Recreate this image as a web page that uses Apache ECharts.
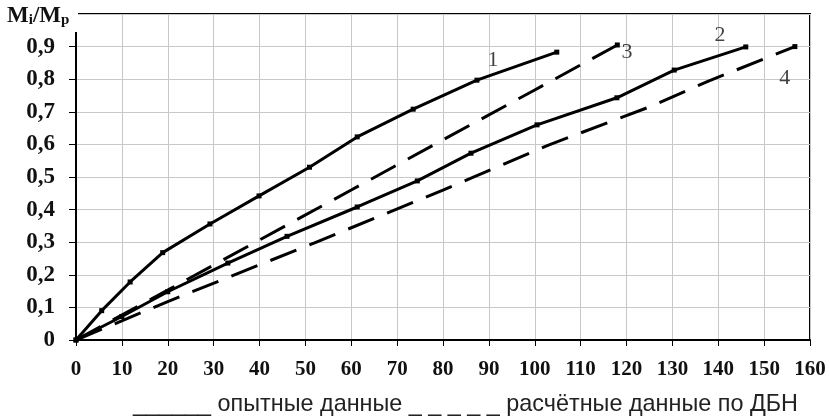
<!DOCTYPE html>
<html><head><meta charset="utf-8">
<script src="https://cdn.jsdelivr.net/npm/echarts@6/dist/echarts.min.js"></script>
<style>html,body{margin:0;padding:0;background:#fff}#c{width:830px;height:420px}</style>
</head><body><div id="c"></div>
<script>
// Curve 1 (experimental)
const x1 = [0, 5.6, 11.8, 18.9, 29.2, 39.9, 50.9, 61.3, 73.5, 87.4, 104.8];
const y1 = [0, 0.09, 0.178, 0.268, 0.356, 0.442, 0.53, 0.623, 0.708, 0.797, 0.883];
// Curve 2 (experimental)
const x2 = [0, 10, 20, 33.1, 46, 61.3, 74.4, 86.1, 100.5, 117.9, 130.4, 146];
const y2 = [0, 0.072, 0.148, 0.236, 0.318, 0.408, 0.488, 0.573, 0.66, 0.743, 0.828, 0.899];
// Curve 3 (calculated, DBN)
const x3 = [0, 20, 38.6, 60, 80, 100, 118];
const y3 = [0, 0.153, 0.296, 0.46, 0.614, 0.767, 0.905];
// Curve 4 (calculated, DBN)
const x4 = [0, 20, 52, 80, 103, 125, 138, 156.7];
const y4 = [0, 0.118, 0.298, 0.46, 0.598, 0.715, 0.795, 0.9];
// Curve number labels
const labelText = ['1', '2', '3', '4'];
const labelX = [90.9, 140.4, 120.1, 154.5];
const labelY = [0.859, 0.936, 0.883, 0.804];
// Axis ticks
const xMin = 0, xMax = 160, xStep = 10;
const yMin = 0, yMax = 1, yStep = 0.1;
const yTitle = ['M', 'i', '/M', 'p'];
const legendSolid = '______ опытные данные';
const legendDashed = '_ _ _ _ _ расчётные данные по ДБН';

const zip = (xs, ys) => xs.map((x, i) => [x, ys[i]]);
const solid = {type: 'solid', width: 3, color: '#000'};
const dashed = {type: [28, 14], width: 3, color: '#000'};
function line(name, xs, ys, style, endOnly) {
  const lastX = xs[xs.length - 1];
  return {name, type: 'line', data: zip(xs, ys),
    symbol: endOnly ? (v => (v[0] === lastX ? 'rect' : 'none')) : 'rect', symbolSize: 5,
    itemStyle: {color: '#000'}, lineStyle: style, silent: true, animation: false, z: 3};
}
const chart = echarts.init(document.getElementById('c'), null, {renderer: 'canvas'});
chart.setOption({
  backgroundColor: '#fff',
  animation: false,
  grid: {left: 76, right: 20, top: 14, bottom: 80, show: true, borderColor: '#000', borderWidth: 2},
  xAxis: {type: 'value', min: xMin, max: xMax, interval: xStep,
    axisLine: {lineStyle: {color: '#000', width: 2}},
    axisTick: {show: true, length: 6, lineStyle: {color: '#000', width: 1}},
    axisLabel: {margin: 19, fontFamily: 'Liberation Serif', fontWeight: 'bold', fontSize: 21, color: '#111'},
    splitLine: {show: true, lineStyle: {color: '#c8c8c8', width: 1}}},
  yAxis: {type: 'value', min: yMin, max: yMax, interval: yStep,
    axisLine: {show: true, lineStyle: {color: '#000', width: 2}},
    axisTick: {show: true, length: 7, lineStyle: {color: '#000', width: 1}},
    axisLabel: {margin: 21, fontFamily: 'Liberation Serif', fontWeight: 'bold', fontSize: 23, color: '#111',
      formatter: v => { const r = Math.round(v * 10) / 10; return r >= 1 ? '' : String(r).replace('.', ','); }},
    splitLine: {show: true, lineStyle: {color: '#c8c8c8', width: 1}}},
  series: [
    line('1', x1, y1, solid, false),
    line('2', x2, y2, solid, false),
    line('3', x3, y3, dashed, true),
    line('4', x4, y4, dashed, true),
    {type: 'scatter', data: labelX.map((x, i) => [x, labelY[i], labelText[i]]), symbolSize: 0,
      silent: true, z: 4,
      label: {show: true, position: 'inside', formatter: p => p.data[2],
        fontFamily: 'Liberation Serif', fontSize: 22, color: '#111'}}
  ],
  graphic: [
    {type: 'rect', left: 0, top: 0, shape: {width: 78, height: 32}, style: {fill: '#fff'}, z: 100},
    {type: 'text', left: 7, top: 5, z: 101, style: {
      text: '{a|' + yTitle[0] + '}{b|' + yTitle[1] + '}{a|' + yTitle[2] + '}{b|' + yTitle[3] + '}',
      rich: {a: {fontFamily: 'Liberation Serif', fontWeight: 'bold', fontSize: 23, fill: '#111', verticalAlign: 'bottom'},
             b: {fontFamily: 'Liberation Serif', fontWeight: 'bold', fontSize: 15, fill: '#111', verticalAlign: 'bottom'}}}},
    {type: 'text', z: 101, style: {x: 133, y: 405, text: legendSolid + ' ' + legendDashed, verticalAlign: 'middle',
      font: '23.4px "Liberation Sans"', fill: '#222'}}
  ]
});
</script></body></html>
